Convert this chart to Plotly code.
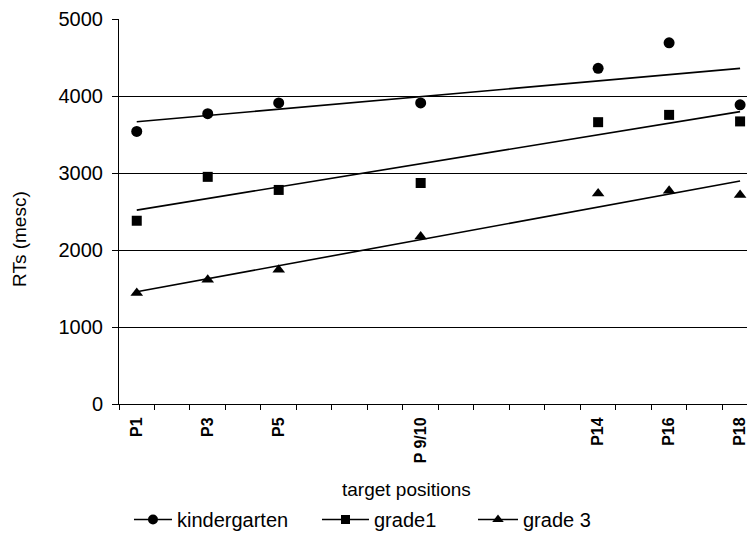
import numpy as np
import plotly.graph_objects as go

# Data
positions = [1, 3, 5, 9, 14, 16, 18]
tick_labels = ["P1", "P3", "P5", "P 9/10", "P14", "P16", "P18"]
kindergarten = [3540, 3770, 3910, 3910, 4360, 4690, 3885]
grade1 = [2380, 2950, 2780, 2870, 3660, 3755, 3670]
grade3 = [1440, 1615, 1745, 2175, 2735, 2770, 2715]

series = [
    ("kindergarten", kindergarten, "circle", 11, "legend"),
    ("grade1", grade1, "square", 10, "legend2"),
    ("grade 3", grade3, "triangle-up", 11, "legend3"),
]

FONT = "Liberation Sans, Arial, sans-serif"
fig = go.Figure()

x_arr = np.array(positions, dtype=float)
x_line = np.array([x_arr.min(), x_arr.max()])
for name, vals, sym, size, leg in series:
    y_arr = np.array(vals, dtype=float)
    slope, intercept = np.polyfit(x_arr, y_arr, 1)
    fig.add_trace(go.Scatter(
        x=x_line, y=slope * x_line + intercept, mode="lines",
        line=dict(color="black", width=1.6), showlegend=False, hoverinfo="skip"))
    fig.add_trace(go.Scatter(
        x=positions, y=vals, mode="markers",
        marker=dict(symbol=sym, size=size, color="black"),
        showlegend=False, name=name, cliponaxis=False))
    fig.add_trace(go.Scatter(
        x=[None], y=[None], mode="lines+markers", name=name, legend=leg,
        line=dict(color="black", width=1.6),
        marker=dict(symbol=sym, size=size - 1, color="black")))

def legend_at(x, iw=38):
    return dict(orientation="h", x=x, xanchor="left", y=-0.30, yanchor="middle",
                font=dict(size=20, family=FONT), itemwidth=iw,
                bgcolor="rgba(0,0,0,0)")

fig.update_layout(
    width=747, height=538,
    margin=dict(l=111, r=0, t=11, b=142, autoexpand=False),
    paper_bgcolor="white", plot_bgcolor="white",
    font=dict(family=FONT, color="black", size=19),
    showlegend=True,
    legend=legend_at(0.0157),
    legend2=legend_at(0.3113, 47),
    legend3=legend_at(0.5566, 40),
    xaxis=dict(
        range=[0.5, 18.42],
        tickmode="array", tickvals=positions, ticktext=tick_labels,
        tickangle=-90, tickfont=dict(size=16, family=FONT, weight="bold"),
        ticks="", showgrid=False, zeroline=False, ticklabelstandoff=6,
        ticklabeloverflow="allow",
        showline=True, linecolor="black", linewidth=1,
        minor=dict(tickmode="linear", tick0=0.5, dtick=1, ticks="outside",
                   ticklen=5, tickcolor="black", tickwidth=1, showgrid=False),
    ),
    yaxis=dict(
        range=[0, 5000], tickmode="linear", tick0=0, dtick=1000,
        ticks="outside", ticklen=6, tickcolor="black", tickwidth=1,
        tickfont=dict(size=20, family=FONT), ticklabelstandoff=5,
        showgrid=True, gridcolor="black", gridwidth=1,
        zeroline=False, showline=True, linecolor="black", linewidth=1,
    ),
    annotations=[
        dict(text="target positions", xref="paper", yref="paper",
             x=0.452, y=-0.223, xanchor="center", yanchor="middle",
             showarrow=False, font=dict(size=19, family=FONT)),
        dict(text="RTs (mesc)", xref="paper", yref="paper",
             x=-0.1557, y=0.4286, xanchor="center", yanchor="middle",
             textangle=-90, showarrow=False, font=dict(size=19, family=FONT)),
    ],
)

fig.write_html("out.html")
